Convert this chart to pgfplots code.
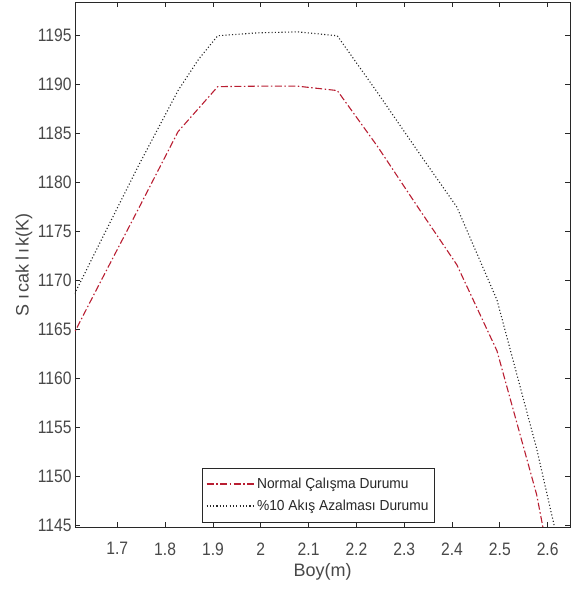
\documentclass[border=0pt]{standalone}
\usepackage{fontspec}
\setmainfont{Liberation Sans}
\newfontfamily\tickfont{Liberation Sans}[FakeStretch=0.87]
\newfontfamily\legfont{Liberation Sans}[FakeStretch=0.95]
\usepackage{pgfplots}
\pgfplotsset{compat=1.18}
\usepackage{pgfplotstable}

\definecolor{lred}{RGB}{185,30,50}
\definecolor{axgray}{RGB}{40,40,40}

% Normal operation
\pgfplotstableread{
x      T
1.577  1161.5
1.660  1169.4
1.744  1177.3
1.827  1185.2
1.910  1189.8
1.994  1189.85
2.077  1189.85
2.160  1189.4
2.244  1183.7
2.327  1177.6
2.410  1171.6
2.494  1162.8
2.577  1148.1
2.660  1127.0
}\normalcase

% 10% reduced flow
\pgfplotstableread{
x      T
1.577  1165.3
1.660  1173.5
1.744  1181.7
1.827  1189.4
1.870  1192.6
1.910  1195.0
1.994  1195.3
2.077  1195.4
2.160  1195.0
2.244  1189.2
2.327  1183.3
2.410  1177.5
2.494  1168.0
2.577  1152.8
2.660  1135.0
}\reducedflow

\begin{document}
\begin{tikzpicture}
\path[use as bounding box] (-75pt,-76pt) rectangle (501pt,527pt);
\begin{axis}[
  at={(0pt,0pt)}, anchor=south west,
  scale only axis, width=495pt, height=525pt,
  xmin=1.6115, xmax=2.6467, ymin=1144.8, ymax=1198.45,
  xtick={1.7,1.8,...,2.61},
  ytick={1145,1150,...,1195},
  tick align=inside,
  major tick length=5pt,
  axis line style={axgray, line width=0.8pt},
  tick style={axgray, line width=0.8pt},
  scaled ticks=false,
  /pgf/number format/assume math mode=true,
  /pgf/number format/1000 sep={},
  xticklabel style={font=\tickfont\fontsize{18}{18}\selectfont, text=axgray!85, yshift=-12pt,
    /pgf/number format/fixed, /pgf/number format/precision=1},
  yticklabel style={font=\tickfont\fontsize{18}{18}\selectfont, text=axgray!85},
  xlabel={Boy(m)},
  ylabel={S\kern5pt{}ı\kern2pt{}cak\kern3pt{}l\kern3pt{}ı\kern3pt{}k(K)},
  xlabel style={font=\fontsize{18}{18}\selectfont, text=axgray!85,
    at={(axis description cs:0.5,0)}, anchor=center, yshift=-45pt},
  ylabel style={font=\fontsize{18}{18}\selectfont, text=axgray!85,
    at={([xshift=-51pt]axis description cs:0,0.5)}, anchor=center},
  legend style={at={(0.727,0.009)}, anchor=south east,
    font=\legfont\fontsize{14.5}{14.5}\selectfont, text=axgray,
    draw=axgray, line width=0.6pt, inner xsep=4pt, inner ysep=8pt,
    row sep=6pt, cells={anchor=west}},
  legend image code/.code={\draw[#1] (0pt,0pt) -- (48pt,0pt);},
]
\addplot[color=lred, line width=1.1pt,
  dash pattern=on 7pt off 2.5pt on 1.5pt off 2.5pt] table[x=x, y=T] {\normalcase};
\addlegendentry{Normal Çalışma Durumu}
\addplot[color=black!85, line width=1.1pt,
  dash pattern=on 1.1pt off 2.2pt] table[x=x, y=T] {\reducedflow};
\addlegendentry{\%10 Akış Azalması Durumu}
\end{axis}
\end{tikzpicture}
\end{document}
